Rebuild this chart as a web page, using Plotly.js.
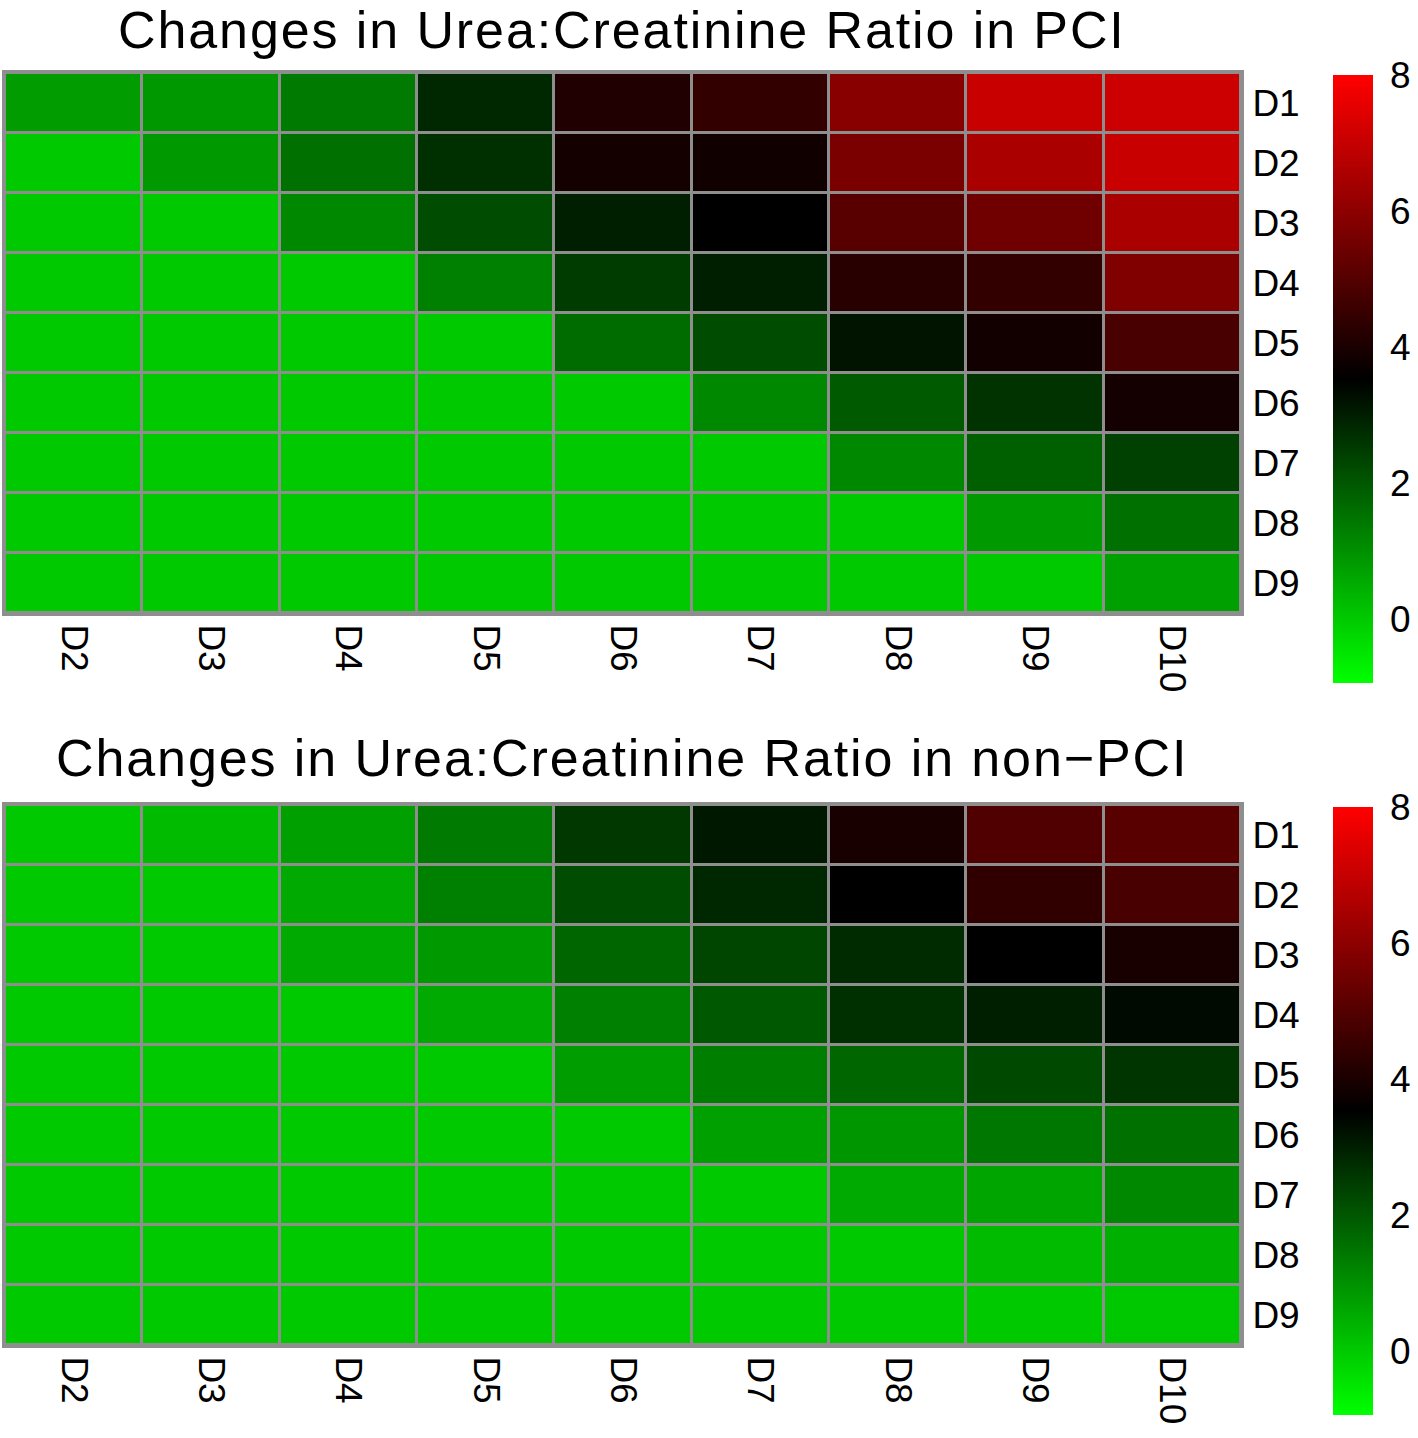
<!DOCTYPE html>
<html>
<head>
<meta charset="utf-8">
<script src="https://cdn.plot.ly/plotly-3.0.1.min.js"></script>
<style>
  html, body { margin: 0; padding: 0; background: #ffffff; }
  #chart { width: 1418px; height: 1438px; }
  text.annotation-text { letter-spacing: 1.9px; }
</style>
</head>
<body>
<div id="chart"></div>
<script>
// Row labels (top to bottom) and column labels (left to right)
const rowLabels = ["D1", "D2", "D3", "D4", "D5", "D6", "D7", "D8", "D9"];
const colLabels = ["D2", "D3", "D4", "D5", "D6", "D7", "D8", "D9", "D10"];

// Changes in Urea:Creatinine Ratio in PCI (rows D1..D9, cols D2..D10)
const pciD1 = [0.80, 0.86, 1.39, 2.83, 4.09, 4.42, 5.91, 7.04, 7.11];
const pciD2 = [0.00, 0.85, 1.57, 2.69, 3.90, 3.81, 5.67, 6.51, 7.04];
const pciD3 = [0.00, 0.00, 1.15, 2.20, 3.00, 3.53, 5.07, 5.49, 6.51];
const pciD4 = [0.00, 0.00, 0.00, 1.29, 2.48, 3.00, 4.23, 4.42, 5.77];
const pciD5 = [0.00, 0.00, 0.00, 0.00, 1.64, 2.20, 3.18, 3.85, 4.79];
const pciD6 = [0.00, 0.00, 0.00, 0.00, 0.00, 1.15, 1.95, 2.64, 3.88];
const pciD7 = [0.00, 0.00, 0.00, 0.00, 0.00, 0.00, 1.15, 1.85, 2.41];
const pciD8 = [0.00, 0.00, 0.00, 0.00, 0.00, 0.00, 0.00, 0.85, 1.57];
const pciD9 = [0.00, 0.00, 0.00, 0.00, 0.00, 0.00, 0.00, 0.00, 0.73];

// Changes in Urea:Creatinine Ratio in non-PCI
const nonD1 = [0.00, 0.25, 0.73, 1.39, 2.55, 3.11, 3.95, 4.93, 5.07];
const nonD2 = [0.00, 0.00, 0.55, 1.29, 2.20, 2.83, 3.53, 4.37, 4.79];
const nonD3 = [0.00, 0.00, 0.55, 0.85, 1.74, 2.30, 2.80, 3.53, 3.95];
const nonD4 = [0.00, 0.00, 0.00, 0.55, 1.29, 1.99, 2.69, 3.00, 3.35];
const nonD5 = [0.00, 0.00, 0.00, 0.00, 0.78, 1.33, 1.75, 2.25, 2.60];
const nonD6 = [0.00, 0.00, 0.00, 0.00, 0.00, 0.73, 0.90, 1.44, 1.57];
const nonD7 = [0.00, 0.00, 0.00, 0.00, 0.00, 0.00, 0.55, 0.64, 1.15];
const nonD8 = [0.00, 0.00, 0.00, 0.00, 0.00, 0.00, 0.00, 0.25, 0.44];
const nonD9 = [0.00, 0.00, 0.00, 0.00, 0.00, 0.00, 0.00, 0.00, 0.02];

const colorTicks = [0, 2, 4, 6, 8];
const zLow = -0.94, zHigh = 8;

const pciZ = [pciD1, pciD2, pciD3, pciD4, pciD5, pciD6, pciD7, pciD8, pciD9];
const nonZ = [nonD1, nonD2, nonD3, nonD4, nonD5, nonD6, nonD7, nonD8, nonD9];

const W = 1418, H = 1438;
const FONT = "Liberation Sans, Arial, Helvetica, sans-serif";
const GRID = "#8e8e8e";
const scale = [[0, "#00ff00"], [0.5, "#000000"], [1, "#ff0000"]];

function cbar(yCenterPx) {
  return {
    x: 1333 / W, xanchor: "left", xpad: 0,
    y: 1 - yCenterPx / H, yanchor: "middle", ypad: 0,
    len: 608, lenmode: "pixels",
    thickness: 40, thicknessmode: "pixels",
    outlinewidth: 0,
    tickmode: "array", tickvals: colorTicks,
    ticks: "outside", ticklen: 10, tickcolor: "rgba(0,0,0,0)",
    tickfont: { family: FONT, size: 37, color: "#000" }
  };
}

const traces = [
  {
    type: "heatmap", x: colLabels, y: rowLabels, z: pciZ,
    xaxis: "x", yaxis: "y", zmin: zLow, zmax: zHigh,
    colorscale: scale, xgap: 3, ygap: 3,
    colorbar: cbar((75 + 683) / 2), hoverongaps: false
  },
  {
    type: "heatmap", x: colLabels, y: rowLabels, z: nonZ,
    xaxis: "x2", yaxis: "y2", zmin: zLow, zmax: zHigh,
    colorscale: scale, xgap: 3, ygap: 3,
    colorbar: cbar((807 + 1415) / 2), hoverongaps: false
  }
];

function xax(anchor) {
  return {
    domain: [5 / W, 1241 / W], anchor: anchor, type: "category",
    tickangle: 90, ticks: "outside", ticklen: 1, tickcolor: "rgba(0,0,0,0)",
    tickfont: { family: FONT, size: 37, color: "#000" },
    showline: true, mirror: true, linecolor: GRID, linewidth: 3,
    showgrid: false, zeroline: false, fixedrange: true
  };
}
function yax(anchor, topPx, botPx) {
  return {
    domain: [1 - botPx / H, 1 - topPx / H], anchor: anchor, type: "category",
    side: "right", autorange: "reversed",
    ticks: "outside", ticklen: 1, tickcolor: "rgba(0,0,0,0)",
    tickfont: { family: FONT, size: 37, color: "#000" },
    showline: true, mirror: true, linecolor: GRID, linewidth: 3,
    showgrid: false, zeroline: false, fixedrange: true
  };
}

const layout = {
  width: W, height: H,
  margin: { l: 0, r: 0, t: 0, b: 0 },
  paper_bgcolor: "#ffffff", plot_bgcolor: GRID,
  showlegend: false,
  xaxis: xax("y"), yaxis: yax("x", 73, 613),
  xaxis2: xax("y2"), yaxis2: yax("x2", 805, 1345),
  annotations: [
    {
      text: "Changes in Urea:Creatinine Ratio in PCI",
      xref: "paper", yref: "paper", x: 622 / W, y: 1 - 30 / H,
      xanchor: "center", yanchor: "middle", showarrow: false,
      font: { family: FONT, size: 52, color: "#000" }
    },
    {
      text: "Changes in Urea:Creatinine Ratio in non\u2212PCI",
      xref: "paper", yref: "paper", x: 622 / W, y: 1 - 758 / H,
      xanchor: "center", yanchor: "middle", showarrow: false,
      font: { family: FONT, size: 52, color: "#000" }
    }
  ]
};

Plotly.newPlot("chart", traces, layout, { staticPlot: true, displayModeBar: false });
</script>
</body>
</html>
